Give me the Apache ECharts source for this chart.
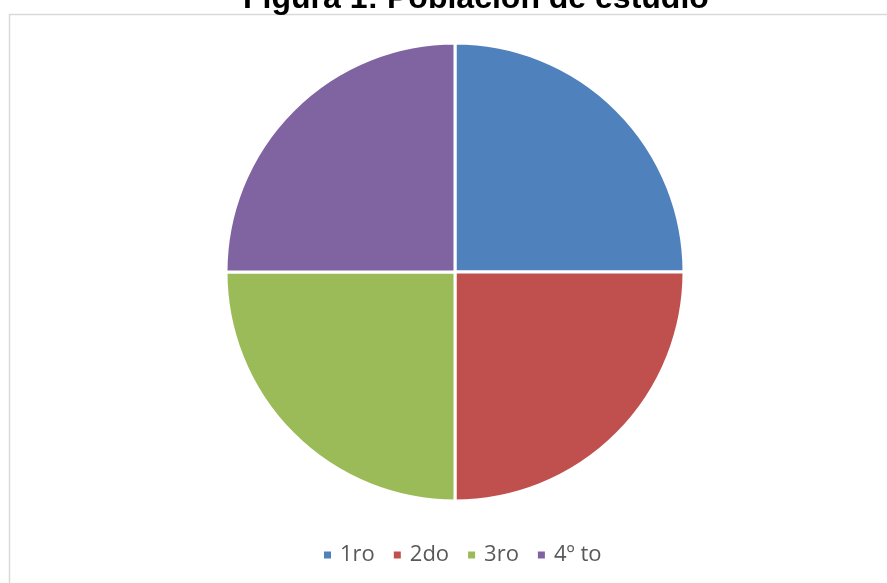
<!DOCTYPE html>
<html><head><meta charset="utf-8">
<script src="https://cdn.jsdelivr.net/npm/echarts@6/dist/echarts.min.js"></script>
<style>html,body{margin:0;padding:0;background:#fff}#c{width:887px;height:583px}</style>
</head><body><div id="c"></div>
<script>
const categories = ['1ro', '2do', '3ro', '4º to'];
const values = [25, 25, 25, 25];
const colors = ['#4F81BD', '#C0504D', '#9BBB59', '#8064A2'];
const titleText = 'Figura 1: Población de estudio';

const chart = echarts.init(document.getElementById('c'));
chart.setOption({
  animation: false,
  graphic: [{
    type: 'rect', shape: {x: 9.5, y: 14.5, width: 900, height: 600},
    style: {fill: 'none', stroke: '#D9D9D9', lineWidth: 1.5}, z: -1
  }],
  title: {
    text: titleText, left: 238, top: -22,
    textStyle: {fontFamily: 'Liberation Sans, Arial', fontWeight: 'bold', fontSize: 32, color: '#000'}
  },
  legend: {
    top: 539, left: 317, icon: 'rect', itemWidth: 9, itemHeight: 9, itemGap: 17,
    textStyle: {fontFamily: 'Open Sans, sans-serif', fontSize: 22, color: '#595959', padding: [0, 0, 0, 3]},
    data: categories
  },
  series: [{
    type: 'pie', center: [455, 272], radius: [0, 229], startAngle: 90, clockwise: true,
    label: {show: false}, labelLine: {show: false},
    itemStyle: {borderColor: '#fff', borderWidth: 3},
    emphasis: {disabled: true},
    data: categories.map((c, i) => ({name: c, value: values[i], itemStyle: {color: colors[i]}}))
  }]
});
</script></body></html>
